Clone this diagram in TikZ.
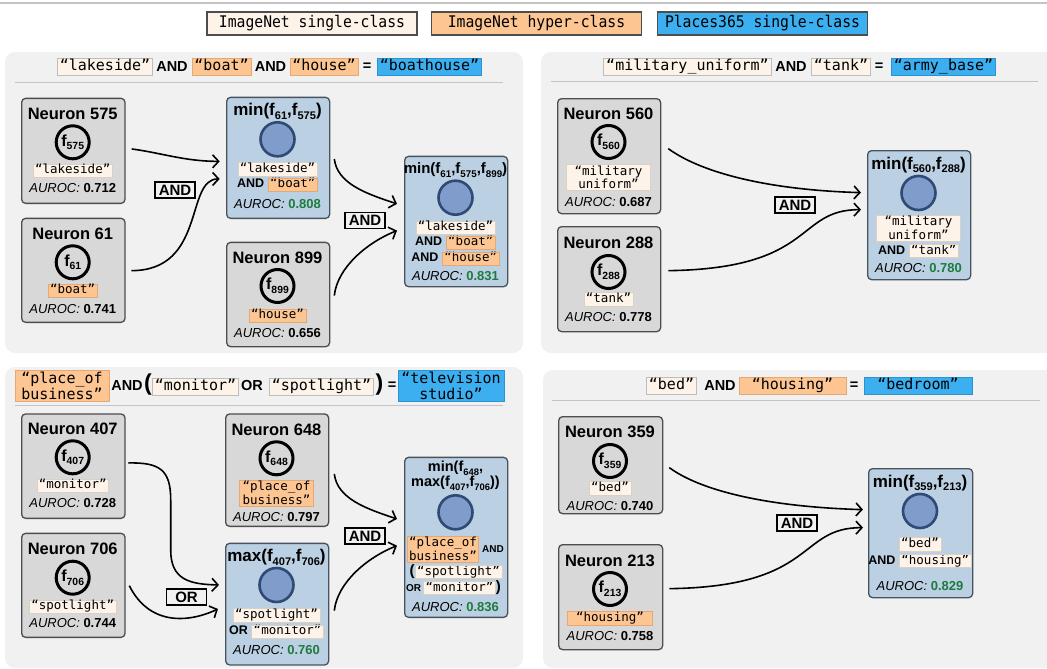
\documentclass[tikz,border=0pt]{standalone}
\usepackage{fontspec}
\usepackage{graphicx}
\setmainfont{Liberation Sans}
\setsansfont{Liberation Sans}
\setmonofont{DejaVu Sans Mono}
\newfontfamily\legfont[FakeStretch=0.92]{DejaVu Sans Mono}
\usetikzlibrary{arrows.meta,calc}
\definecolor{panelbg}{HTML}{F1F1F1}
\definecolor{ngray}{HTML}{D8D8D8}
\definecolor{nbord}{HTML}{4D4D4D}
\definecolor{bfill}{HTML}{BBD0E2}
\definecolor{bbord}{HTML}{48535E}
\definecolor{circf}{HTML}{7F9CCB}
\definecolor{circd}{HTML}{2F4A74}
\definecolor{cream}{HTML}{FDF3E9}
\definecolor{creamd}{HTML}{D9D0C6}
\definecolor{orng}{HTML}{FCC592}
\definecolor{orngd}{HTML}{E3A874}
\definecolor{plblue}{HTML}{3BAFF0}
\definecolor{plblued}{HTML}{2A93D0}
\definecolor{trd}{HTML}{BDBDBD}
\definecolor{aucgreen}{HTML}{1F7A3E}
\definecolor{sepcol}{HTML}{C4C4C4}
\newcommand\fz[1]{\fontsize{#1}{#1}\selectfont}
\newcommand\fsub[1]{f\raisebox{-0.22em}{\scalebox{0.65}{#1}}}
\newcommand\lbx[2]{{\setlength\fboxsep{0pt}\setlength\fboxrule{0.5pt}\fcolorbox{#1d}{#1}{\hspace{2pt}\rule[-3pt]{0pt}{12.4pt}{\ttfamily\fz{12.5}#2}\hspace{2pt}}}}
\tikzset{
  panel/.style={fill=panelbg, rounded corners=10pt},
  sepline/.style={draw=sepcol, line width=1pt},
  topline/.style={draw=sepcol, line width=1.5pt},
  leg/.style={draw=nbord, line width=1.2pt, minimum width=210pt, minimum height=23pt, inner sep=0pt, font=\legfont\fz{16}},
  nbox/.style={draw=nbord, fill=ngray, rounded corners=4pt, line width=1.3pt, anchor=north west, inner sep=0pt},
  bbox/.style={draw=bbord, fill=bfill, rounded corners=4pt, line width=1.3pt, anchor=north west, inner sep=0pt},
  ntitle/.style={font=\bfseries\fz{16.5}, inner sep=0pt},
  ctitle/.style={font=\bfseries\fz{17}, inner sep=0pt},
  fcirc/.style={circle, draw=black, line width=3pt, minimum size=33pt, inner sep=0pt, font=\bfseries\fz{16}},
  bcirc/.style={circle, draw=circd, fill=circf, line width=2.6pt, minimum size=34pt, inner sep=0pt},
  labbase/.style={font=\ttfamily\fz{12.5}, inner xsep=2pt, inner ysep=0.6pt, line width=0.5pt, text height=9.3pt, text depth=3pt},
  single/.style={labbase, fill=cream, draw=creamd},
  hyper/.style={labbase, fill=orng, draw=orngd},
  lab2/.style={font=\ttfamily\fontsize{12.5}{13.5}\selectfont, align=center, inner xsep=3pt, inner ysep=1.2pt, line width=0.5pt},
  auroc/.style={font=\fz{13}, inner sep=0pt},
  mixl/.style={font=\fz{12.5}, inner sep=0pt},
  oplab/.style={draw=black, fill=panelbg, line width=1.3pt, font=\bfseries\fz{15}, inner xsep=3pt, inner ysep=2.8pt, minimum width=40pt},
  arr/.style={line width=1.6pt, -{Straight Barb[length=6pt,width=13pt]}},
  trbase/.style={font=\ttfamily\fz{15}, inner xsep=2.5pt, inner ysep=1.5pt, text height=10.8pt, text depth=3.3pt, line width=0.6pt},
  trs/.style={trbase, fill=cream, draw=trd},
  trh/.style={trbase, fill=orng, draw=orngd},
  trp/.style={trbase, fill=plblue, draw=plblued},
  tr2/.style={font=\ttfamily\fontsize{15}{16}\selectfont, align=center, inner xsep=3.5pt, inner ysep=1.5pt, line width=0.6pt},
  tand/.style={font=\bfseries\fz{14.5}, inner sep=0pt}
}
\begin{document}
\begin{tikzpicture}[x=1pt,y=-1pt]
\useasboundingbox (0,0) rectangle (1047,669);
\clip (0,0) rectangle (1047,669);
\fill[white] (0,0) rectangle (1047,669);
\draw[topline] (0,3) -- (1047,3);

% legend
\node[leg, fill=cream] (lg1) at (312,23.5) {ImageNet single-class};
\node[leg, fill=orng] (lg2) at (536.5,23.5) {ImageNet hyper-class};
\node[leg, fill=plblue] (lg3) at (762.5,23.5) {Places365 single-class};

% ================= panel 1 =================
\path[panel] (5,52) rectangle (523,353);
\draw[sepline] (14.5,82.3) -- (503,82.3);
\node[trs] (t1a) at (105,66.7) {“lakeside”};
\node[tand] (t1b) at (172,66.7) {AND};
\node[trh] (t1c) at (221.5,66.7) {“boat”};
\node[tand] (t1d) at (270.5,66.7) {AND};
\node[trh] (t1e) at (324,66.7) {“house”};
\node[tand] (t1f) at (367,66.7) {=};
\node[trp] (t1g) at (429.5,66.7) {“boathouse”};

\node[nbox, minimum width=103.4pt, minimum height=105pt] (n575) at (21,97.7) {};
\node[ntitle] (n575t) at (72.7,114) {Neuron 575};
\node[fcirc] (n575c) at (72.7,142.3) {\fsub{575}};
\node[single] (n575l) at (72.7,170.7) {“lakeside”};
\node[auroc] (n575a) at (72.7,188.3) {\textit{AUROC:} \textbf{0.712}};

\node[nbox, minimum width=103.4pt, minimum height=104pt] (n61) at (21,217.7) {};
\node[ntitle] (n61t) at (72.7,234.3) {Neuron 61};
\node[fcirc] (n61c) at (72.7,262.3) {\fsub{61}};
\node[hyper] (n61l) at (72.7,290.7) {“boat”};
\node[auroc] (n61a) at (72.7,308.7) {\textit{AUROC:} \textbf{0.741}};

\node[bbox, minimum width=103pt, minimum height=121pt] (m1) at (226,96.7) {};
\node[ctitle] (m1t) at (277.5,111.7) {min(\fsub{61},\fsub{575})};
\node[bcirc] (m1c) at (277.5,139.3) {};
\node[single] (m1l) at (277.5,169) {“lakeside”};
\node[mixl] (m1b) at (277.5,184.3) {\textbf{AND} \lbx{orng}{“boat”}};
\node[auroc] (m1a) at (277.5,204) {\textit{AUROC:} \textbf{\color{aucgreen}0.808}};

\node[nbox, minimum width=103pt, minimum height=104.3pt] (n899) at (226,241.7) {};
\node[ntitle] (n899t) at (277.5,258.3) {Neuron 899};
\node[fcirc] (n899c) at (277.5,286) {\fsub{899}};
\node[hyper] (n899l) at (277.5,315.7) {“house”};
\node[auroc] (n899a) at (277.5,332.7) {\textit{AUROC:} \textbf{0.656}};

\node[bbox, minimum width=103pt, minimum height=130.3pt] (m2) at (404,155.7) {};
\node[ctitle, font=\bfseries\fz{15}] (m2t) at (455.5,170) {min(\fsub{61},\fsub{575},\fsub{899})};
\node[bcirc] (m2c) at (455.5,197.7) {};
\node[single] (m2l) at (455.5,227.7) {“lakeside”};
\node[mixl] (m2b) at (455.5,242.7) {\textbf{AND} \lbx{orng}{“boat”}};
\node[mixl] (m2d) at (455.5,258.7) {\textbf{AND} \lbx{orng}{“house”}};
\node[auroc] (m2a) at (455.5,275.7) {\textit{AUROC:} \textbf{\color{aucgreen}0.831}};

\draw[arr] ([shift={(6,-1.9)}]n575.east) .. controls +(30,4) and +(-35,0) .. ([shift={(-6.3,3.5)}]m1.west);
\draw[arr] ([shift={(5.6,0.3)}]n61.east) .. controls +(75,0) and +(-34.7,0) .. ([shift={(-6.3,21.1)}]m1.west);
\draw[arr] ([shift={(4,1.1)}]m1.east) .. controls +(3,25) and +(-30,-10) .. ([shift={(-7,-17.6)}]m2.west);
\draw[arr] ([shift={(4,1.1)}]n899.east) .. controls +(3,-28) and +(-30,12) .. ([shift={(-7,9.1)}]m2.west);
\node[oplab] (and1) at (175,190) {AND};
\node[oplab] (and2) at (365,220.5) {AND};

% ================= panel 2 =================
\path[panel] (541,52) rectangle (1070,353);
\draw[sepline] (551,82) -- (1038,82);
\node[trs] (t2a) at (687.5,66.7) {“military\_uniform”};
\node[tand] (t2b) at (791,66.7) {AND};
\node[trs] (t2c) at (841,66.7) {“tank”};
\node[tand] (t2d) at (879,66.7) {=};
\node[trp] (t2e) at (943.5,66.7) {“army\_base”};

\node[nbox, minimum width=103pt, minimum height=115pt] (n560) at (557,98) {};
\node[ntitle] (n560t) at (608.5,114) {Neuron 560};
\node[fcirc] (n560c) at (608.5,142) {\fsub{560}};
\node[lab2, fill=cream, draw=creamd, minimum width=84pt] (n560l) at (608.5,177.5) {“military\\uniform”};
\node[auroc] (n560a) at (608.5,202) {\textit{AUROC:} \textbf{0.687}};

\node[nbox, minimum width=103pt, minimum height=105pt] (n288) at (557,226) {};
\node[ntitle] (n288t) at (608.5,243) {Neuron 288};
\node[fcirc] (n288c) at (608.5,272) {\fsub{288}};
\node[single] (n288l) at (608.5,299) {“tank”};
\node[auroc] (n288a) at (608.5,317) {\textit{AUROC:} \textbf{0.778}};

\node[bbox, minimum width=103pt, minimum height=129pt] (m3) at (867,150) {};
\node[ctitle] (m3t) at (918.5,165) {min(\fsub{560},\fsub{288})};
\node[bcirc] (m3c) at (918.5,193) {};
\node[lab2, fill=cream, draw=creamd, minimum width=84pt] (m3l) at (918.5,228) {“military\\uniform”};
\node[mixl] (m3b) at (918.5,251) {\textbf{AND} \lbx{cream}{“tank”}};
\node[auroc] (m3a) at (918.5,268) {\textit{AUROC:} \textbf{\color{aucgreen}0.780}};

\draw[arr] ([shift={(7,-7.5)}]n560.east) .. controls +(30,22) and +(-100,-3) .. ([shift={(-6,-22.5)}]m3.west);
\draw[arr] ([shift={(7,-8.5)}]n288.east) .. controls +(148,-2) and +(-66,0) .. ([shift={(-6,-5.5)}]m3.west);
\node[oplab] (and3) at (795,205) {AND};

% ================= panel 3 =================
\path[panel] (5,367) rectangle (523,668);
\draw[sepline] (14.5,405.7) -- (503,405.7);
\node[tr2, fill=orng, draw=orngd, minimum width=94pt] (t3a) at (62,386) {“place\_of\\business”};
\node[tand] (t3b) at (127,386) {AND};
\node[font=\bfseries\fz{23}, inner sep=0pt] (t3c) at (148,385) {(};
\node[trs] (t3d) at (195.5,386.5) {“monitor”};
\node[tand] (t3e) at (252,386) {OR};
\node[trs] (t3f) at (321.5,386.5) {“spotlight”};
\node[font=\bfseries\fz{23}, inner sep=0pt] (t3g) at (379.5,385) {)};
\node[tand] (t3h) at (392,386) {=};
\node[tr2, fill=plblue, draw=plblued, minimum width=104pt] (t3i) at (451,386) {“television\\studio”};

\node[nbox, minimum width=103.4pt, minimum height=104.4pt] (n407) at (21,413.3) {};
\node[ntitle] (n407t) at (72.7,429) {Neuron 407};
\node[fcirc] (n407c) at (72.7,457.3) {\fsub{407}};
\node[single] (n407l) at (72.7,485.7) {“monitor”};
\node[auroc] (n407a) at (72.7,503.3) {\textit{AUROC:} \textbf{0.728}};

\node[nbox, minimum width=103.4pt, minimum height=104pt] (n706) at (21,532.7) {};
\node[ntitle] (n706t) at (72.7,549) {Neuron 706};
\node[fcirc] (n706c) at (72.7,577.7) {\fsub{706}};
\node[single] (n706l) at (72.7,606.7) {“spotlight”};
\node[auroc] (n706a) at (72.7,623.3) {\textit{AUROC:} \textbf{0.744}};

\node[nbox, minimum width=103pt, minimum height=112.4pt] (n648) at (225,413.3) {};
\node[ntitle] (n648t) at (276.5,430) {Neuron 648};
\node[fcirc] (n648c) at (276.5,458.3) {\fsub{648}};
\node[lab2, fill=orng, draw=orngd] (n648l) at (276.5,493) {“place\_of\\business”};
\node[auroc] (n648a) at (276.5,517.3) {\textit{AUROC:} \textbf{0.797}};

\node[bbox, minimum width=103pt, minimum height=121.6pt] (mx) at (225,542.7) {};
\node[ctitle] (mxt) at (276.5,557.7) {max(\fsub{407},\fsub{706})};
\node[bcirc] (mxc) at (276.5,585) {};
\node[single] (mxl) at (276.5,615) {“spotlight”};
\node[mixl] (mxb) at (276.5,631.7) {\textbf{OR} \lbx{cream}{“monitor”}};
\node[auroc] (mxa) at (276.5,650) {\textit{AUROC:} \textbf{\color{aucgreen}0.760}};

\node[bbox, minimum width=103pt, minimum height=160pt] (m5) at (404,456.7) {};
\node[align=center, inner sep=0pt, font=\bfseries\fontsize{14.5}{15}\selectfont] (m5t) at (455.5,475.8) {min(\fsub{648},\\max(\fsub{407},\fsub{706}))};
\node[bcirc] (m5c) at (455.5,512.3) {};
\node[lab2, fill=orng, draw=orngd, inner xsep=1.5pt] (m5l) at (443,549) {“place\_of\\business”};
\node[font=\bfseries\fz{10}, inner sep=0pt] (m5and) at (493,549) {AND};
\node[mixl] (m5b) at (456,571.7) {{\bfseries\fz{15}(}\lbx{cream}{“spotlight”}};
\node[mixl] (m5d) at (453.5,587.7) {{\bfseries\fz{10}OR}\,\lbx{cream}{“monitor”}{\bfseries\fz{15})}};
\node[auroc] (m5a) at (455.5,606.7) {\textit{AUROC:} \textbf{\color{aucgreen}0.836}};

\draw[arr] ([shift={(2.6,-3.2)}]n407.east) .. controls (160,462.3) and (170.7,470) .. (170.7,500) -- (170.7,550) .. controls (170.7,580) and (190,584.3) .. ([shift={(-6,-19.2)}]mx.west);
\draw[arr] ([shift={(3.6,0.3)}]n706.east) .. controls +(20,40) and +(-30,14) .. ([shift={(-7,4.8)}]mx.west);
\draw[arr] ([shift={(5,3.8)}]n648.east) .. controls +(3,25) and +(-30,-10) .. ([shift={(-7,-18.4)}]m5.west);
\draw[arr] ([shift={(5,6.5)}]mx.east) .. controls +(3,-28) and +(-30,12) .. ([shift={(-7,8.3)}]m5.west);
\node[oplab] (or1) at (186.5,597) {OR};
\node[oplab] (and4) at (365,536) {AND};

% ================= panel 4 =================
\path[panel] (543,370) rectangle (1070,668);
\draw[sepline] (552,400) -- (1040,400);
\node[trs] (t4a) at (671.5,386) {“bed”};
\node[tand] (t4b) at (720,386) {AND};
\node[trh, minimum width=107pt] (t4c) at (792.5,386) {“housing”};
\node[tand] (t4d) at (854,386) {=};
\node[trp, minimum width=108pt] (t4e) at (918,386) {“bedroom”};

\node[nbox, minimum width=104pt, minimum height=97pt] (n359) at (558,416) {};
\node[ntitle] (n359t) at (610,432) {Neuron 359};
\node[fcirc] (n359c) at (610,461) {\fsub{359}};
\node[single] (n359l) at (610,488) {“bed”};
\node[auroc] (n359a) at (610,506) {\textit{AUROC:} \textbf{0.740}};

\node[nbox, minimum width=104pt, minimum height=105pt] (n213) at (558,544) {};
\node[ntitle] (n213t) at (610,561) {Neuron 213};
\node[fcirc] (n213c) at (610,589) {\fsub{213}};
\node[hyper, minimum width=85pt] (n213l) at (610,618) {“housing”};
\node[auroc] (n213a) at (610,636) {\textit{AUROC:} \textbf{0.758}};

\node[bbox, minimum width=104pt, minimum height=129pt] (m4) at (868,468) {};
\node[ctitle] (m4t) at (920,483) {min(\fsub{359},\fsub{213})};
\node[bcirc] (m4c) at (920,511) {};
\node[single] (m4l) at (920,544) {“bed”};
\node[mixl] (m4b) at (920,561) {\textbf{AND} \lbx{cream}{“housing”}};
\node[auroc] (m4a) at (920,586) {\textit{AUROC:} \textbf{\color{aucgreen}0.829}};

\draw[arr] ([shift={(6,2.5)}]n359.east) .. controls +(30,22) and +(-100,-3) .. ([shift={(-5,-23.5)}]m4.west);
\draw[arr] ([shift={(6,-8.5)}]n213.east) .. controls +(148,-2) and +(-66,0) .. ([shift={(-5,-5.5)}]m4.west);
\node[oplab] (and5) at (797,523) {AND};
\end{tikzpicture}
\end{document}
